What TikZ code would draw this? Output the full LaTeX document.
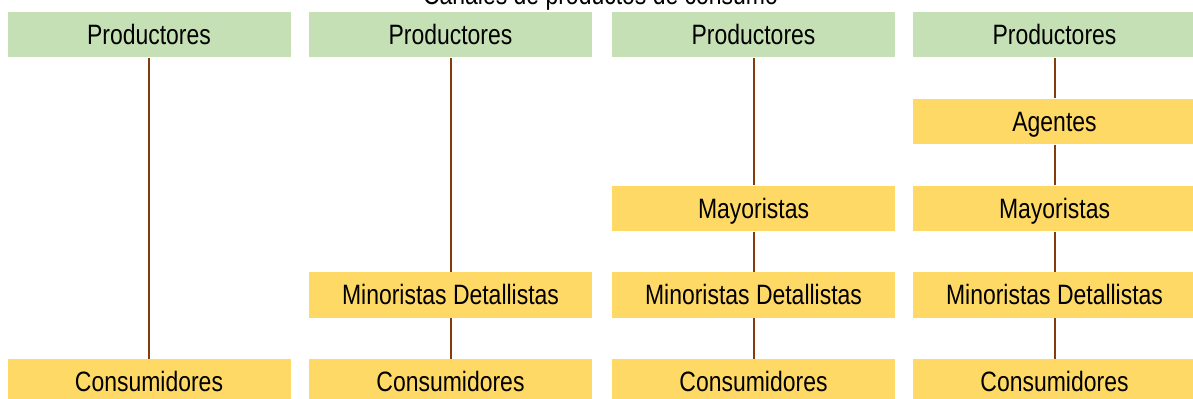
\documentclass[tikz,border=0pt]{standalone}
\usepackage{fontspec}
\setmainfont{Liberation Sans}[FakeStretch=0.82]
\definecolor{verdeprod}{HTML}{C5E0B4}
\definecolor{amarillo}{HTML}{FFD966}
\definecolor{cafe}{HTML}{843C0C}
\tikzset{
    etapa/.style={minimum width=141.5pt, minimum height=22.75pt, inner sep=0pt,
        text height=10pt, text depth=0pt, font=\fontsize{14}{16}\selectfont},
    prod/.style={etapa, fill=verdeprod},
    inter/.style={etapa, fill=amarillo},
    enlace/.style={draw=cafe, line width=1pt}
}
\begin{document}
\begin{tikzpicture}[x=0.5pt,y=-0.5pt]
            \useasboundingbox (0,0) rectangle (1193,399);
            \node[anchor=base, font=\fontsize{14}{16}\selectfont] (titulo) at (600.5,5) {Canales de productos de consumo};
            % canal directo
            \node[prod] (prodA) at (149,34.5) {Productores};
            \node[inter] (consA) at (149,381.75) {Consumidores};
            \draw[enlace] (prodA) -- (consA);
            % canal con minoristas
            \node[prod] (prodB) at (450.5,34.5) {Productores};
            \node[inter] (minB) at (450.5,295) {Minoristas Detallistas};
            \node[inter] (consB) at (450.5,381.75) {Consumidores};
            \draw[enlace] (prodB) -- (minB);
            \draw[enlace] (minB) -- (consB);
            % canal con mayoristas
            \node[prod] (prodC) at (753.5,34.5) {Productores};
            \node[inter] (mayC) at (753.5,208.5) {Mayoristas};
            \node[inter] (minC) at (753.5,295) {Minoristas Detallistas};
            \node[inter] (consC) at (753.5,381.75) {Consumidores};
            \draw[enlace] (prodC) -- (mayC);
            \draw[enlace] (mayC) -- (minC);
            \draw[enlace] (minC) -- (consC);
            % canal con agentes
            \node[prod] (prodD) at (1054.5,34.5) {Productores};
            \node[inter] (ageD) at (1054.5,121.5) {Agentes};
            \node[inter] (mayD) at (1054.5,208.5) {Mayoristas};
            \node[inter] (minD) at (1054.5,295) {Minoristas Detallistas};
            \node[inter] (consD) at (1054.5,381.75) {Consumidores};
            \draw[enlace] (prodD) -- (ageD);
            \draw[enlace] (ageD) -- (mayD);
            \draw[enlace] (mayD) -- (minD);
            \draw[enlace] (minD) -- (consD);
        \end{tikzpicture}
\end{document}
